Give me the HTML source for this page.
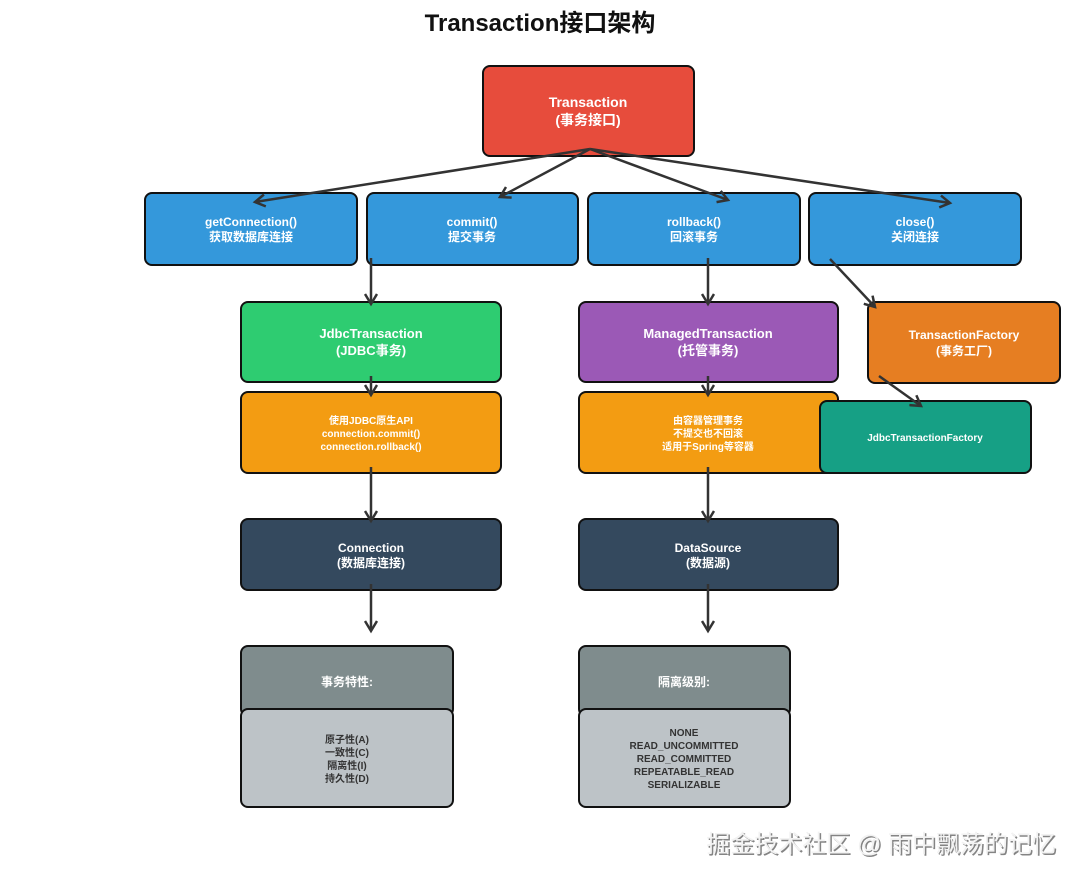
<!DOCTYPE html>
<html><head><meta charset="utf-8"><style>
html,body{margin:0;padding:0;background:#fff;}
svg{display:block;}
text{font-family:"Liberation Sans","Noto Sans CJK SC",sans-serif;font-weight:bold;}
</style></head><body>
<svg width="1080" height="882" viewBox="0 0 1080 882" xmlns="http://www.w3.org/2000/svg">
<defs>
<marker id="a" markerWidth="14" markerHeight="14" refX="11" refY="7" orient="auto" markerUnits="userSpaceOnUse">
<path d="M1,1 L11,7 L1,13" fill="none" stroke="#333" stroke-width="2.5"/>
</marker>
</defs>
<text x="540" y="31" text-anchor="middle" font-size="24" fill="#111">Transaction接口架构</text>
<g stroke="#111" stroke-width="2">
<rect x="483" y="66" width="211" height="90" rx="7" fill="#e74c3c"/>
<rect x="145" y="193" width="212" height="72" rx="7" fill="#3498db"/>
<rect x="367" y="193" width="211" height="72" rx="7" fill="#3498db"/>
<rect x="588" y="193" width="212" height="72" rx="7" fill="#3498db"/>
<rect x="809" y="193" width="212" height="72" rx="7" fill="#3498db"/>
<rect x="241" y="302" width="260" height="80" rx="7" fill="#2ecc71"/>
<rect x="579" y="302" width="259" height="80" rx="7" fill="#9b59b6"/>
<rect x="868" y="302" width="192" height="81" rx="7" fill="#e67e22"/>
<rect x="241" y="392" width="260" height="81" rx="7" fill="#f39c12"/>
<rect x="579" y="392" width="259" height="81" rx="7" fill="#f39c12"/>
<rect x="820" y="401" width="211" height="72" rx="7" fill="#16a085"/>
<rect x="241" y="519" width="260" height="71" rx="7" fill="#34495e"/>
<rect x="579" y="519" width="259" height="71" rx="7" fill="#34495e"/>
<rect x="241" y="646" width="212" height="70" rx="7" fill="#7f8c8d"/>
<rect x="241" y="709" width="212" height="98" rx="7" fill="#bdc3c7"/>
<rect x="579" y="646" width="211" height="70" rx="7" fill="#7f8c8d"/>
<rect x="579" y="709" width="211" height="98" rx="7" fill="#bdc3c7"/>
</g>
<g stroke="#333" stroke-width="2.5" fill="none" marker-end="url(#a)">
<line x1="590" y1="149" x2="255" y2="202"/>
<line x1="590" y1="149" x2="500" y2="197"/>
<line x1="590" y1="149" x2="728" y2="200"/>
<line x1="590" y1="149" x2="950" y2="203"/>
<line x1="371" y1="258" x2="371" y2="304"/>
<line x1="708" y1="258" x2="708" y2="304"/>
<line x1="830" y1="259" x2="875" y2="307"/>
<line x1="371" y1="376" x2="371" y2="395"/>
<line x1="708" y1="376" x2="708" y2="395"/>
<line x1="879" y1="376" x2="921" y2="406"/>
<line x1="371" y1="467" x2="371" y2="521"/>
<line x1="708" y1="467" x2="708" y2="521"/>
<line x1="371" y1="584" x2="371" y2="631"/>
<line x1="708" y1="584" x2="708" y2="631"/>
</g>
<g fill="#fff" text-anchor="middle">
<text x="588" y="107" font-size="14">Transaction</text>
<text x="588" y="125" font-size="14">(事务接口)</text>
<text x="251" y="226" font-size="12">getConnection()</text>
<text x="251" y="241" font-size="12">获取数据库连接</text>
<text x="472" y="226" font-size="12">commit()</text>
<text x="472" y="241" font-size="12">提交事务</text>
<text x="694" y="226" font-size="12">rollback()</text>
<text x="694" y="241" font-size="12">回滚事务</text>
<text x="915" y="226" font-size="12">close()</text>
<text x="915" y="241" font-size="12">关闭连接</text>
<text x="371" y="338" font-size="13">JdbcTransaction</text>
<text x="371" y="355" font-size="13">(JDBC事务)</text>
<text x="708" y="338" font-size="13">ManagedTransaction</text>
<text x="708" y="355" font-size="13">(托管事务)</text>
<text x="964" y="339" font-size="12">TransactionFactory</text>
<text x="964" y="355" font-size="12">(事务工厂)</text>
<text x="371" y="424" font-size="10">使用JDBC原生API</text>
<text x="371" y="437" font-size="10">connection.commit()</text>
<text x="371" y="450" font-size="10">connection.rollback()</text>
<text x="708" y="424" font-size="10">由容器管理事务</text>
<text x="708" y="437" font-size="10">不提交也不回滚</text>
<text x="708" y="450" font-size="10">适用于Spring等容器</text>
<text x="925" y="441" font-size="10">JdbcTransactionFactory</text>
<text x="371" y="552" font-size="12">Connection</text>
<text x="371" y="567" font-size="12">(数据库连接)</text>
<text x="708" y="552" font-size="12">DataSource</text>
<text x="708" y="567" font-size="12">(数据源)</text>
<text x="347" y="686" font-size="12">事务特性:</text>
<text x="684" y="686" font-size="12">隔离级别:</text>
</g>
<g fill="#333" text-anchor="middle" font-size="10">
<text x="347" y="743">原子性(A)</text>
<text x="347" y="756">一致性(C)</text>
<text x="347" y="769">隔离性(I)</text>
<text x="347" y="782">持久性(D)</text>
<text x="684" y="736">NONE</text>
<text x="684" y="749">READ_UNCOMMITTED</text>
<text x="684" y="762">READ_COMMITTED</text>
<text x="684" y="775">REPEATABLE_READ</text>
<text x="684" y="788">SERIALIZABLE</text>
</g>
<text x="1056" y="852" text-anchor="end" font-size="24" fill="#333" style="font-weight:normal" opacity="0.6" transform="translate(1.5,1.5)">掘金技术社区 @ 雨中飘荡的记忆</text>
<text x="1056" y="852" text-anchor="end" font-size="24" fill="#f2f2f2" style="font-weight:normal">掘金技术社区 @ 雨中飘荡的记忆</text>
</svg>
</body></html>
